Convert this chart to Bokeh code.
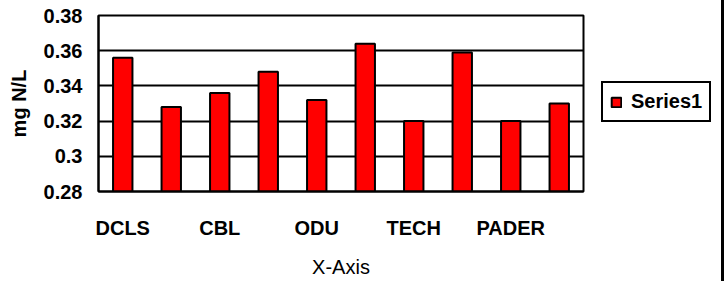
from bokeh.plotting import figure
from bokeh.models import Range1d, FixedTicker, Legend, LegendItem, Div
from bokeh.layouts import row
from bokeh.embed import file_html
from bokeh.resources import INLINE

# ---- data ----
sites = ["DCLS", "", "CBL", "", "ODU", "", "TECH", "", "PADER", ""]
values = [0.356, 0.328, 0.336, 0.348, 0.332, 0.364, 0.320, 0.359, 0.320, 0.330]
y_ticks = [0.28, 0.30, 0.32, 0.34, 0.36, 0.38]
y_tick_labels = ["0.28", "0.3", "0.32", "0.34", "0.36", "0.38"]
series_name = "Series1"
x_title = "X-Axis"
y_title = "mg N/L"

FONT = "Liberation Sans"
BAR_FILL = "#FF0000"
y_min, y_max = y_ticks[0], y_ticks[-1]
xs = list(range(len(values)))

H = 281
TOP, BOTTOM = 15, 90

p = figure(width=585, height=H, output_backend="svg", toolbar_location=None,
           x_range=Range1d(-0.5, len(values) - 0.5), y_range=Range1d(y_min, y_max),
           min_border_left=98, min_border_right=2, min_border_top=TOP, min_border_bottom=BOTTOM)

p.vbar(x=xs, top=values, bottom=y_min, width=0.4,
       fill_color=BAR_FILL, line_color="black", line_width=2)

# frame
p.outline_line_color = "black"
p.outline_line_width = 2
p.outline_line_alpha = 1
p.background_fill_color = "white"
p.border_fill_color = "white"

# x axis
p.xaxis.ticker = FixedTicker(ticks=[i for i, s in enumerate(sites) if s])
p.xaxis.major_label_overrides = {i: s for i, s in enumerate(sites) if s}
p.xaxis.axis_label = x_title
p.xgrid.grid_line_color = None

# y axis
p.yaxis.ticker = FixedTicker(ticks=y_ticks)
p.yaxis.major_label_overrides = {t: l for t, l in zip(y_ticks, y_tick_labels)}
p.yaxis.axis_label = y_title
p.ygrid.ticker = FixedTicker(ticks=y_ticks)
p.ygrid.grid_line_color = "black"
p.ygrid.grid_line_width = 2
p.ygrid.grid_line_alpha = 1

for ax in (p.xaxis, p.yaxis):
    ax.axis_line_color = "black"
    ax.axis_line_width = 2
    ax.major_tick_line_color = None
    ax.minor_tick_line_color = None
    ax.major_tick_out = 0
    ax.major_tick_in = 0
    ax.major_label_text_font = FONT
    ax.major_label_text_font_style = "bold"
    ax.major_label_text_font_size = "20px"
    ax.major_label_text_color = "black"
    ax.axis_label_text_font = FONT
    ax.axis_label_text_font_size = "20px"
    ax.axis_label_text_color = "black"

p.xaxis.major_label_standoff = 25
p.xaxis.axis_label_standoff = 14
p.xaxis.axis_label_text_font_style = "normal"
p.yaxis.major_label_standoff = 16
p.yaxis.axis_label_standoff = 11
p.yaxis.axis_label_text_font_style = "bold"

# legend panel (separate canvas to the right of the plot; frames are aligned)
lfig = figure(width=136, height=H, output_backend="svg", toolbar_location=None,
              x_range=Range1d(-0.5, len(values) - 0.5), y_range=Range1d(y_min, y_max),
              x_axis_location=None, y_axis_location=None,
              min_border_left=0, min_border_top=TOP, min_border_right=0, min_border_bottom=BOTTOM)
lfig.grid.visible = False
lfig.outline_line_color = None
lfig.background_fill_color = "white"
lfig.border_fill_color = "white"
proxy = lfig.vbar(x=xs, top=values, bottom=y_min, width=0.4, fill_color=BAR_FILL,
                  line_color="black", line_width=2, visible=False)

legend = Legend(items=[LegendItem(label=series_name, renderers=[proxy])],
                location=(16, 69))
legend.border_line_color = "black"
legend.border_line_width = 2
legend.border_line_alpha = 1
legend.background_fill_alpha = 1
legend.inactive_fill_alpha = 0
legend.label_text_font = FONT
legend.label_text_font_style = "bold"
legend.label_text_font_size = "20px"
legend.label_text_color = "black"
legend.glyph_width = 12
legend.glyph_height = 12
legend.label_height = 20
legend.label_standoff = 9
legend.padding = 7
legend.margin = 0
legend.spacing = 0
lfig.add_layout(legend)

edge = Div(width=3, height=H, margin=0, styles={"background-color": "black"})
layout = row(p, lfig, edge, spacing=0)

open("out.html", "w").write(file_html(layout, INLINE))
